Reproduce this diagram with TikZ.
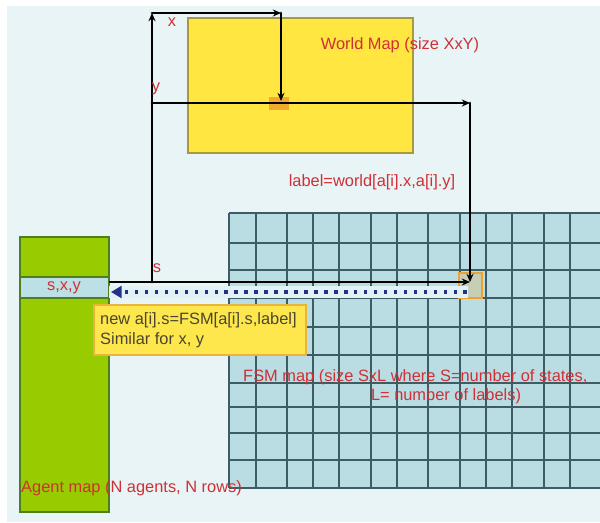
\documentclass[tikz,border=0pt]{standalone}
\usepackage{fontspec}
\setmainfont{Liberation Sans}
\usetikzlibrary{arrows.meta}
\definecolor{bg}{HTML}{E8F4F6}
\definecolor{gridfill}{HTML}{B9DDE3}
\definecolor{gridline}{HTML}{3E5C64}
\definecolor{wyellow}{HTML}{FFE641}
\definecolor{wborder}{HTML}{A89A3A}
\definecolor{agreen}{HTML}{99CC00}
\definecolor{aborder}{HTML}{4E7F1E}
\definecolor{rowblue}{HTML}{BDE0E6}
\definecolor{redtext}{HTML}{CF3035}
\definecolor{calfill}{HTML}{FDE74C}
\definecolor{calborder}{HTML}{E9B33C}
\definecolor{orng}{HTML}{EFA22E}
\definecolor{dotblue}{HTML}{22318A}
\definecolor{textgray}{HTML}{4B4630}
\begin{document}
\begin{tikzpicture}[x=0.03cm,y=-0.03cm, font=\fontsize{14}{17}\selectfont,
  redlab/.style={text=redtext, inner sep=0pt},
  boxshape/.style={rectangle, inner sep=0pt, outer sep=0pt},
  conn/.style={line width=2.5pt, black, line cap=round, -{Stealth[length=7pt,width=6pt]}},
  gridln/.style={gridline, line width=1.5pt}]
\useasboundingbox (0,0) rectangle (600,522);
\fill[white] (0,0) rectangle (600,522);
\fill[bg] (7,6) rectangle (600,522);
% FSM grid
\fill[gridfill] (229,213) rectangle (600,488);
\foreach \gx in {229,256,287,313,339,371,397,428,460,486,512,544,570}
  \draw[gridln] (\gx,213) -- (\gx,488);
\foreach \gy in {213,243,270,298,327,355,383,407,433,460,488}
  \draw[gridln] (229,\gy) -- (600,\gy);
% world map
\node (world) [boxshape, draw=wborder, fill=wyellow, line width=1pt,
  minimum width=225*0.03cm, minimum height=135*0.03cm] at (300.5,85.5) {};
% agent map
\node (agent) [boxshape, draw=aborder, fill=agreen, line width=1pt,
  minimum width=89*0.03cm, minimum height=275*0.03cm] at (64.5,374.5) {};
\node (row) [boxshape, draw=aborder, fill=rowblue, line width=1pt,
  minimum width=89*0.03cm, minimum height=21*0.03cm] at (64.5,287.5) {};
\node[redlab] at (64,288) {s,x,y};
% orange cells
\node (wcellbox) [boxshape, fill=orng, opacity=0.85,
  minimum width=20*0.03cm, minimum height=13*0.03cm] at (279,103.5) {};
\node (fcellbox) [boxshape, draw=orng, fill=orng!25!gridfill, line width=1.5pt,
  minimum width=23*0.03cm, minimum height=25*0.03cm] at (470.5,285.5) {};
% dotted band and arrow
\fill[white!55!rowblue] (109,286) rectangle (468,298);
\coordinate (dstart) at (467,292);
\coordinate (dend) at (111,292);
\draw[dotblue, line width=3pt, dash pattern=on 3pt off 5.5pt,
  -{Triangle[length=9pt,width=10pt]}] (dstart) -- (dend);
% black connectors
\coordinate (sstart) at (109,282);
\coordinate (corner) at (152,282);
\coordinate (topleft) at (152,13);
\coordinate (topright) at (281,13);
\coordinate (wcell) at (281,101);
\coordinate (yleft) at (152,103);
\coordinate (yright) at (470,103);
\coordinate (fcell) at (470,282);
\draw[line width=2.5pt, black] (sstart) -- (corner);
\draw[conn] (corner) -- (topleft);
\draw[conn] (topleft) -- (topright);
\draw[conn] (topright) -- (wcell);
\draw[conn] (yleft) -- (yright);
\draw[conn] (yright) -- (fcell);
\draw[conn] (corner) -- (fcell);
% callout
\node (callout) [boxshape, draw=calborder, fill=calfill, line width=1pt,
  minimum width=212*0.03cm, minimum height=50*0.03cm] at (200,330) {};
\node[anchor=west, inner sep=0pt, text=textgray] at (100,320) {new a[i].s=FSM[a[i].s,label]};
\node[anchor=west, inner sep=0pt, text=textgray] at (100,340) {Similar for x, y};
% labels
\node[redlab] at (172,22) {x};
\node[redlab] at (156,89) {y};
\node[redlab] at (157,268) {s};
\node[redlab] at (400,45) {World Map (size XxY)};
\node[redlab] at (372,182) {label=world[a[i].x,a[i].y]};
\node[redlab, anchor=west] at (243,377) {FSM map (size SxL where S=number of states,};
\node[redlab] at (446,396) {L= number of labels)};
\node[redlab, anchor=west] at (21,488) {Agent map (N agents, N rows)};
\end{tikzpicture}
\end{document}
